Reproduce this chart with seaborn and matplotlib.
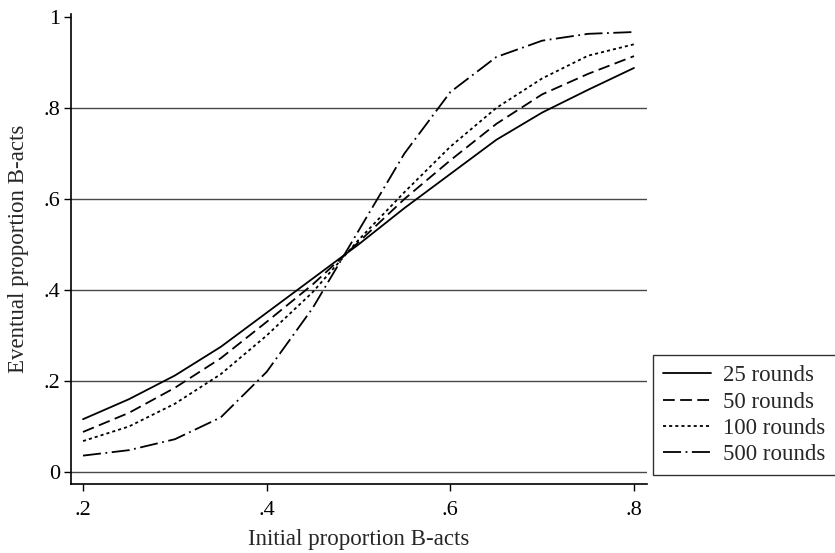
import matplotlib
matplotlib.use("Agg")
import matplotlib.pyplot as plt
import seaborn as sns
import pandas as pd

# ---- data ----
x_init = [0.20, 0.25, 0.30, 0.35, 0.40, 0.45, 0.50, 0.55, 0.60, 0.65, 0.70, 0.75, 0.80]
r25 = [0.116, 0.160, 0.212, 0.275, 0.350, 0.425, 0.500, 0.580, 0.655, 0.730, 0.790, 0.840, 0.888]
r50 = [0.088, 0.130, 0.185, 0.250, 0.330, 0.412, 0.505, 0.600, 0.685, 0.765, 0.830, 0.875, 0.914]
r100 = [0.068, 0.100, 0.150, 0.215, 0.300, 0.395, 0.510, 0.615, 0.715, 0.800, 0.865, 0.915, 0.940]
r500 = [0.036, 0.048, 0.072, 0.120, 0.220, 0.360, 0.530, 0.700, 0.835, 0.912, 0.948, 0.963, 0.967]
series_names = ["25 rounds", "50 rounds", "100 rounds", "500 rounds"]
xticks = [0.2, 0.4, 0.6, 0.8]
xtick_labels = [".2", ".4", ".6", ".8"]
yticks = [0, 0.2, 0.4, 0.6, 0.8, 1.0]
ytick_labels = ["0", ".2", ".4", ".6", ".8", "1"]
grid_vals = [0, 0.2, 0.4, 0.6, 0.8]

rows = []
for name, vals in zip(series_names, [r25, r50, r100, r500]):
    for xv, yv in zip(x_init, vals):
        rows.append({"x": xv, "y": yv, "series": name})
df = pd.DataFrame(rows)

sns.set_style("ticks")
plt.rcParams["font.family"] = ["Liberation Serif", "DejaVu Serif"]

fig = plt.figure(figsize=(8.35, 5.53), dpi=100)
ax = fig.add_axes([71 / 835, 69 / 553, 576 / 835, 470 / 553])

for g in grid_vals:
    ax.axhline(g, color="#484848", lw=1.0, zorder=1)

lw = 1.3
dashes = {
    "25 rounds": "",
    "50 rounds": (6.5, 3),
    "100 rounds": (1.7, 1.7),
    "500 rounds": (10, 2.5, 1, 2.5),
}
sns.lineplot(data=df, x="x", y="y", style="series", style_order=series_names,
             dashes=dashes, color="black", lw=lw, ax=ax, zorder=3)

ax.set_xlim(0.2 - 12 / 917, 0.8 + 13 / 917)
ax.set_ylim(-12 / 455, 1 + 3 / 455)
ax.set_xticks(xticks)
ax.set_xticklabels(xtick_labels)
ax.set_yticks(yticks)
ax.set_yticklabels(ytick_labels)
ax.tick_params(axis="both", direction="out", length=5, width=1.0, labelsize=16, colors="black")
ax.tick_params(axis="x", pad=7)
ax.tick_params(axis="y", pad=3)
for s in ["top", "right"]:
    ax.spines[s].set_visible(False)
for s in ["left", "bottom"]:
    ax.spines[s].set_color("black")
    ax.spines[s].set_linewidth(1.2)

ax.set_xlabel("Initial proportion B-acts", fontsize=16.5, labelpad=7)
ax.set_ylabel("Eventual proportion B-acts", fontsize=16.5, labelpad=10)

leg = ax.legend(loc="lower left", bbox_to_anchor=(582 / 576, 9 / 470), borderaxespad=0,
                frameon=True, fancybox=False, edgecolor="black", fontsize=16.5,
                handlelength=2.1, handletextpad=0.5, labelspacing=0.22,
                borderpad=0.45, title=None)
leg.get_frame().set_linewidth(1.0)

fig.savefig("out.png", dpi=100)
